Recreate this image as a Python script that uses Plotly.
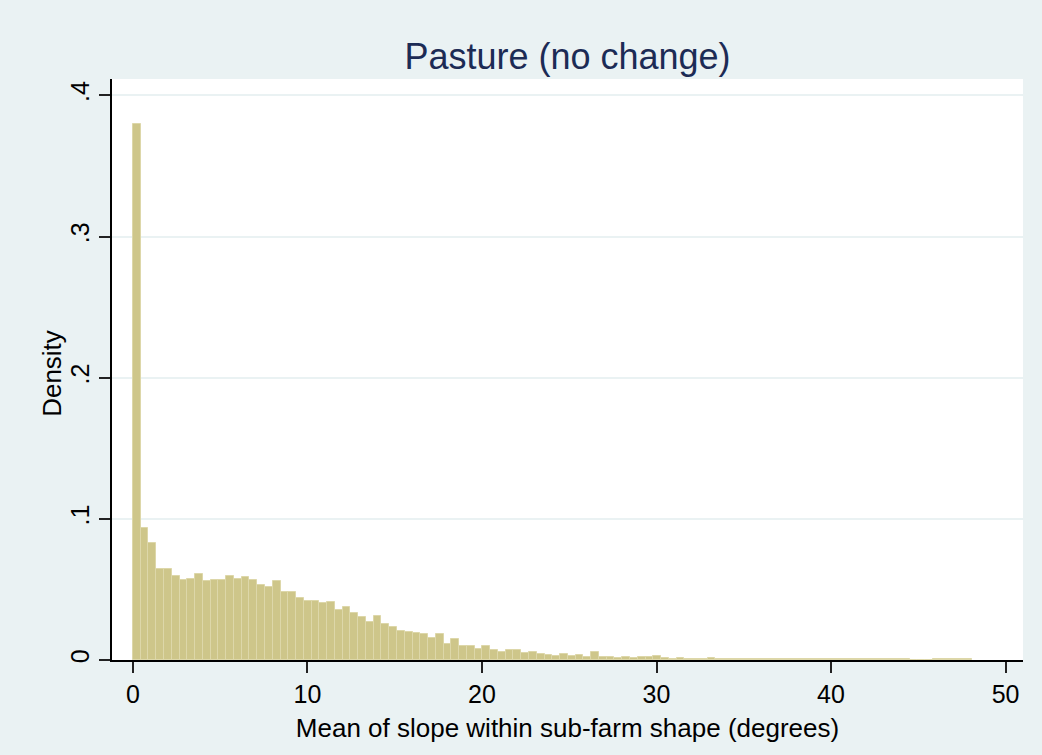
import numpy as np
import plotly.graph_objects as go

# histogram of mean slope, pasture with no change (density scale)
bin_start = 0.0
bin_width = 0.445

density = [
    0.380, 0.0934, 0.0832, 0.0648, 0.0648, 0.0598, 0.0567, 0.0577, 0.0608, 0.0560,
    0.0570, 0.0567, 0.0598, 0.0575, 0.0590, 0.0567, 0.0530, 0.0516, 0.0558, 0.0485,
    0.0483, 0.0442, 0.0416, 0.0416, 0.0407, 0.0410, 0.0355, 0.0378, 0.0336, 0.0303,
    0.0272, 0.0314, 0.0253, 0.0232, 0.0206, 0.0201, 0.0194, 0.0182, 0.0154, 0.0182,
    0.0111, 0.0147, 0.0097, 0.0097, 0.0076, 0.0097, 0.0071, 0.0059, 0.0069, 0.0073,
    0.0047, 0.0054, 0.0040, 0.0037, 0.0026, 0.0042, 0.0031, 0.0035, 0.0024, 0.0060,
    0.0022, 0.0021, 0.0016, 0.0020, 0.0016, 0.0021, 0.0020, 0.0027, 0.0011, 0.0010,
    0.0012, 0.0009, 0.0010, 0.0008, 0.0011, 0.0009, 0.0010, 0.0008, 0.0009, 0.0010,
    0.0008, 0.0009, 0.0010, 0.0008, 0.0009, 0.0008, 0.0010, 0.0009, 0.0008, 0.0009,
    0.0008, 0.0009, 0.0008, 0.0008, 0.0009, 0.0008, 0.0008, 0.0009, 0.0008, 0.0008,
    0.0, 0.0, 0.0, 0.0008, 0.0009, 0.0008, 0.0008, 0.0009,
]

x_ticks = [0, 10, 20, 30, 40, 50]
y_ticks = [0, 0.1, 0.2, 0.3, 0.4]
y_labels = ["0", ".1", ".2", ".3", ".4"]

bg = "#eaf2f3"
font = "Liberation Sans, Arial, sans-serif"

centers = bin_start + bin_width * (np.arange(len(density)) + 0.5)

fig = go.Figure()
fig.add_bar(
    x=centers, y=density, width=bin_width,
    marker=dict(color="#cec68a", line=dict(color="#ddd7a9", width=1)),
)

fig.update_layout(
    width=1042, height=755,
    paper_bgcolor=bg, plot_bgcolor="white",
    margin=dict(l=112, r=19, t=79, b=95),
    showlegend=False, bargap=0,
    font=dict(family=font, size=25, color="black"),
    title=dict(text="Pasture (no change)", x=0.5, xref="paper",
               y=1 - 56 / 755, yanchor="middle",
               font=dict(size=36, color="#1c2b55")),
)
# y-axis title as annotation so it sits a bit closer to the tick labels
fig.add_annotation(
    text="Density", xref="paper", yref="paper", x=-0.066, y=0.494,
    xanchor="center", yanchor="middle", textangle=-90, showarrow=False,
    font=dict(size=26),
)
fig.update_xaxes(
    range=[-1.2, 51.0], tickvals=x_ticks, ticks="outside", ticklen=11,
    tickwidth=1.5, tickcolor="#222", showline=True, linecolor="black",
    linewidth=1.5, showgrid=False, zeroline=False,
    title=dict(text="Mean of slope within sub-farm shape (degrees)",
               standoff=12, font=dict(size=26)),
)
fig.update_yaxes(
    range=[0, 0.4116], tickvals=y_ticks, ticktext=y_labels, tickangle=-90,
    ticks="outside", ticklen=11, tickwidth=1.5, tickcolor="#222",
    showline=True, linecolor="black", linewidth=1.5,
    showgrid=True, gridcolor=bg, gridwidth=1.5, zeroline=False,
)

fig.write_html(
    "out.html",
    config={"displayModeBar": False},
    post_script="document.body.style.margin='0';"
                "document.body.style.background='#eaf2f3';",
)
